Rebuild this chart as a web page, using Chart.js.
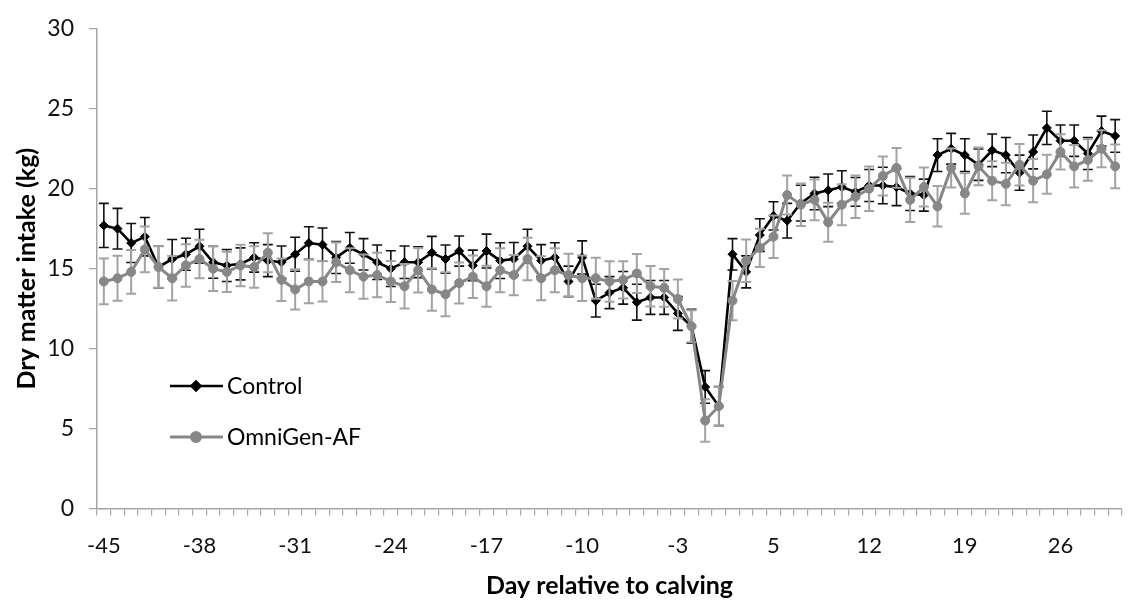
<!DOCTYPE html>
<html>
<head>
<meta charset="utf-8">
<title>Dry matter intake</title>
<script src="https://cdn.jsdelivr.net/npm/chart.js@4.4.0/dist/chart.umd.min.js"></script>
<style>
  html, body { margin: 0; padding: 0; background: #fff; }
  #wrap { width: 1133px; height: 605px; }
</style>
</head>
<body>
<div id="wrap"><canvas id="dmiChart" width="1133" height="605"></canvas></div>
<script>
// Days relative to calving (there is no day 0)
const days = [
  -45, -44, -43, -42, -41, -40, -39, -38, -37, -36, -35, -34, -33, -32, -31,
  -30, -29, -28, -27, -26, -25, -24, -23, -22, -21, -20, -19, -18, -17, -16,
  -15, -14, -13, -12, -11, -10, -9, -8, -7, -6, -5, -4, -3, -2, -1,
  1, 2, 3, 4, 5, 6, 7, 8, 9, 10, 11, 12, 13, 14, 15,
  16, 17, 18, 19, 20, 21, 22, 23, 24, 25, 26, 27, 28, 29, 30
];
const tickDays = [-45, -38, -31, -24, -17, -10, -3, 5, 12, 19, 26];

// Dry matter intake (kg/d) and SE
const controlDMI = [
  17.7, 17.5, 16.6, 17.0, 15.1, 15.6, 15.9, 16.4, 15.4, 15.2, 15.3, 15.7, 15.5, 15.4, 15.9,
  16.6, 16.5, 15.7, 16.3, 15.9, 15.4, 15.0, 15.4, 15.4, 16.0, 15.6, 16.1, 15.2, 16.1, 15.5,
  15.6, 16.4, 15.5, 15.7, 14.2, 15.7, 13.0, 13.5, 13.8, 12.9, 13.2, 13.2, 12.2, 11.4, 7.6,
  6.4, 15.9, 14.8, 17.1, 18.3, 18.0, 19.1, 19.7, 19.9, 20.1, 19.8, 20.2, 20.2, 20.1, 19.7,
  19.6, 22.1, 22.5, 22.1, 21.5, 22.4, 22.1, 21.0, 22.3, 23.8, 23.0, 23.0, 22.2, 23.6, 23.3
];
const controlSE = [
  1.38, 1.27, 1.22, 1.20, 1.30, 1.22, 1.00, 1.06, 1.00, 1.00, 1.00, 0.92, 1.00, 1.02, 1.06,
  1.02, 1.04, 1.00, 0.96, 0.98, 1.08, 1.12, 1.02, 0.96, 1.02, 0.88, 0.94, 0.96, 1.06, 1.12,
  1.04, 1.06, 1.00, 0.92, 0.96, 1.04, 1.02, 1.00, 1.02, 1.12, 1.06, 1.06, 1.06, 1.06, 1.02,
  1.22, 0.98, 1.00, 1.02, 0.88, 1.08, 1.12, 1.02, 1.02, 1.02, 0.90, 1.00, 1.14, 1.16, 1.06,
  1.00, 1.02, 0.96, 1.02, 0.98, 1.02, 1.10, 1.10, 1.06, 1.04, 0.98, 0.98, 1.00, 0.94, 1.02
];
const omnigenDMI = [
  14.2, 14.4, 14.8, 16.2, 15.1, 14.4, 15.2, 15.6, 15.0, 14.8, 15.2, 15.1, 16.0, 14.3, 13.7,
  14.2, 14.2, 15.4, 14.9, 14.5, 14.6, 14.2, 13.9, 14.9, 13.7, 13.4, 14.1, 14.5, 13.9, 14.9,
  14.6, 15.6, 14.4, 14.9, 14.6, 14.4, 14.4, 14.2, 14.3, 14.7, 13.9, 13.8, 13.1, 11.4, 5.5,
  6.4, 13.0, 15.5, 16.3, 17.0, 19.6, 19.0, 19.3, 17.9, 19.0, 19.5, 20.0, 20.8, 21.3, 19.3,
  20.1, 18.9, 21.3, 19.7, 21.4, 20.5, 20.3, 21.5, 20.5, 20.9, 22.3, 21.4, 21.8, 22.5, 21.4
];
const omnigenSE = [
  1.43, 1.40, 1.37, 1.43, 1.30, 1.39, 1.33, 1.20, 1.39, 1.26, 1.30, 1.30, 1.22, 1.33, 1.26,
  1.37, 1.26, 1.24, 1.37, 1.39, 1.39, 1.28, 1.39, 1.39, 1.33, 1.37, 1.28, 1.33, 1.28, 1.37,
  1.26, 1.33, 1.37, 1.37, 1.33, 1.43, 1.28, 1.27, 1.16, 1.22, 1.27, 1.18, 1.22, 1.00, 1.33,
  1.22, 1.22, 1.33, 1.20, 1.33, 1.22, 1.33, 1.27, 1.22, 1.28, 1.33, 1.39, 1.22, 1.24, 1.39,
  1.22, 1.27, 1.22, 1.27, 1.18, 1.22, 1.33, 1.30, 1.35, 1.22, 1.10, 1.33, 1.30, 1.16, 1.37
];

const FONT = "Lato, 'Liberation Sans', Arial, sans-serif";
const AXIS_GRAY = '#a6a6a6';

// vertical error bars with caps, drawn just before each series
const errorBars = {
  id: 'errorBars',
  beforeDatasetDraw(chart, args) {
    const ds = chart.data.datasets[args.index];
    if (!ds.errors) return;
    const { ctx } = chart;
    const y = chart.scales.y;
    ctx.save();
    ctx.strokeStyle = ds.errorColor;
    ctx.lineWidth = ds.errorWidth;
    args.meta.data.forEach((pt, i) => {
      const v = ds.data[i];
      const e = ds.errors[i];
      const top = y.getPixelForValue(v + e);
      const bot = y.getPixelForValue(v - e);
      const cap = 5;
      ctx.beginPath();
      ctx.moveTo(pt.x, top);
      ctx.lineTo(pt.x, bot);
      ctx.moveTo(pt.x - cap, top);
      ctx.lineTo(pt.x + cap, top);
      ctx.moveTo(pt.x - cap, bot);
      ctx.lineTo(pt.x + cap, bot);
      ctx.stroke();
    });
    ctx.restore();
  }
};

// legend sitting inside the plot, lower left
const insideLegend = {
  id: 'insideLegend',
  afterDraw(chart) {
    const { ctx } = chart;
    const items = chart.data.datasets.slice().sort((a, b) => b.order - a.order);
    ctx.save();
    items.forEach((ds, i) => {
      const yy = 386 + i * 51;
      ctx.strokeStyle = ds.borderColor;
      ctx.lineWidth = ds.borderWidth;
      ctx.beginPath();
      ctx.moveTo(170, yy);
      ctx.lineTo(223, yy);
      ctx.stroke();
      Chart.helpers.drawPoint(ctx, {
        pointStyle: ds.pointStyle,
        radius: ds.pointRadius,
        borderWidth: 1
      }, 196, yy);
      ctx.fillStyle = ds.pointBackgroundColor;
      ctx.fill();
      ctx.fillStyle = '#000';
      ctx.font = '23px ' + FONT;
      ctx.textBaseline = 'middle';
      ctx.textAlign = 'left';
      ctx.fillText(ds.label, 227, yy + 1);
    });
    ctx.restore();
  }
};

new Chart(document.getElementById('dmiChart'), {
  type: 'line',
  data: {
    labels: days.map(String),
    datasets: [
      {
        label: 'Control',
        data: controlDMI,
        errors: controlSE,
        errorColor: '#111',
        errorWidth: 1.6,
        borderColor: '#000',
        backgroundColor: '#000',
        pointBackgroundColor: '#000',
        pointBorderColor: '#000',
        borderWidth: 2.6,
        pointStyle: 'rectRot',
        pointRadius: 4.5,
        pointBorderWidth: 1,
        tension: 0,
        order: 1
      },
      {
        label: 'OmniGen-AF',
        data: omnigenDMI,
        errors: omnigenSE,
        errorColor: '#a3a3a3',
        errorWidth: 2,
        borderColor: '#878787',
        backgroundColor: '#878787',
        pointBackgroundColor: '#878787',
        pointBorderColor: '#878787',
        borderWidth: 3,
        pointStyle: 'circle',
        pointRadius: 4.5,
        pointBorderWidth: 1,
        tension: 0,
        order: 0
      }
    ]
  },
  options: {
    responsive: false,
    animation: false,
    layout: { padding: { left: 0, right: 11, top: 18, bottom: 0 } },
    plugins: {
      legend: { display: false },
      tooltip: { enabled: false }
    },
    scales: {
      x: {
        type: 'category',
        offset: true,
        afterFit: s => { s.height = 96.5; },
        grid: {
          offset: true,
          drawOnChartArea: false,
          drawTicks: true,
          tickLength: 7,
          color: AXIS_GRAY,
          lineWidth: 1.2
        },
        border: { color: AXIS_GRAY, width: 1.5 },
        ticks: {
          autoSkip: false,
          maxRotation: 0,
          padding: 17,
          color: '#111',
          font: { family: FONT, size: 22 },
          callback(value, index) {
            const d = days[index];
            return tickDays.includes(d) ? String(d) : '';
          }
        },
        title: {
          display: true,
          text: 'Day relative to calving',
          color: '#000',
          font: { family: FONT, size: 25, weight: 'bold' },
          padding: { top: 0, bottom: 4 }
        }
      },
      y: {
        min: 0,
        max: 30,
        afterFit: s => { s.width = 97; },
        grid: {
          drawOnChartArea: false,
          drawTicks: true,
          tickLength: 8,
          color: AXIS_GRAY,
          lineWidth: 1.2
        },
        border: { color: AXIS_GRAY, width: 1.5 },
        ticks: {
          stepSize: 5,
          padding: 15,
          color: '#111',
          font: { family: FONT, size: 23 }
        },
        title: {
          display: true,
          text: 'Dry matter intake (kg)',
          color: '#000',
          font: { family: FONT, size: 25, weight: 'bold' },
          padding: { top: 12, bottom: 0 }
        }
      }
    }
  },
  plugins: [errorBars, insideLegend]
});
</script>
</body>
</html>
